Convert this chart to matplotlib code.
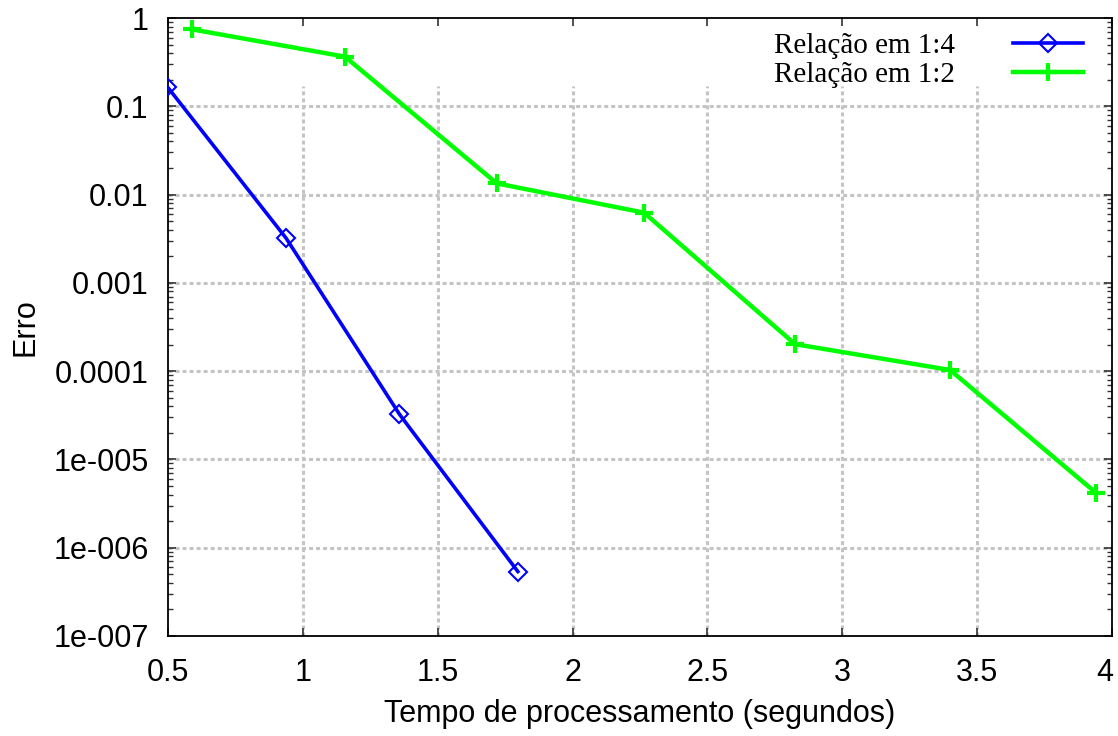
import numpy as np
import matplotlib.pyplot as plt
import matplotlib.transforms as mtransforms
from matplotlib.ticker import FixedLocator, FixedFormatter, LogLocator, NullFormatter

# data
x_14 = [0.497, 0.938, 1.358, 1.797]
err_14 = [0.167, 0.0032, 3.25e-5, 5.37e-7]

x_12 = [0.588, 1.156, 1.719, 2.265, 2.825, 3.40, 3.94]
err_12 = [0.745, 0.365, 0.0134, 0.00624, 2.02e-4, 1.03e-4, 4.2e-6]

labels = ["Relação em 1:4", "Relação em 1:2"]
xticks = [0.5, 1, 1.5, 2, 2.5, 3, 3.5, 4]
xticklabels = ["0.5", "1", "1.5", "2", "2.5", "3", "3.5", "4"]
yticks = [1, 0.1, 0.01, 0.001, 0.0001, 1e-5, 1e-6, 1e-7]
yticklabels = ["1", "0.1", "0.01", "0.001", "0.0001", "1e-005", "1e-006", "1e-007"]

plt.rcParams['font.family'] = ['Liberation Sans', 'DejaVu Sans']

fig = plt.figure(figsize=(11.18, 7.36), dpi=100)
ax = fig.add_axes([0.1503, 0.1359, 0.8443, 0.8396])

ax.set_yscale('log')
ax.set_xlim(0.5, 4)
ax.set_ylim(1e-7, 1)

# grid (gnuplot style: dotted grey, vertical lines stop below the key)
grid_kw = dict(color='#c4c4c4', lw=2.2, linestyle=(0, (1.3, 1.0)), zorder=0)
for v in yticks[1:-1]:
    ax.axhline(v, **grid_kw)
for v in xticks[1:-1]:
    ax.plot([v, v], [1e-7, 0.17], **grid_kw)

ax.plot(x_14, err_14, color='#0000ff', lw=2.6, marker='D', ms=9, mfc='none',
        mec='#0000ff', mew=1.5, label=labels[0], zorder=3)
ax.plot(x_12, err_12, color='#00ff00', lw=3.2, marker='+', ms=13,
        mew=3, label=labels[1], zorder=3)

ax.xaxis.set_major_locator(FixedLocator(xticks))
ax.xaxis.set_major_formatter(FixedFormatter(xticklabels))
ax.yaxis.set_major_locator(FixedLocator(yticks))
ax.yaxis.set_major_formatter(FixedFormatter(yticklabels))
ax.yaxis.set_minor_locator(LogLocator(base=10, subs=np.arange(2, 10)))
ax.yaxis.set_minor_formatter(NullFormatter())

ax.tick_params(which='both', direction='in', top=True, right=True, color='#333333')
ax.tick_params(which='major', length=6, width=1.2, labelsize=22)
ax.tick_params(axis='x', which='major', pad=16)
ax.tick_params(axis='y', which='major', pad=14)
ax.tick_params(which='minor', length=3.5, width=1)

for s in ax.spines.values():
    s.set_linewidth(1.3)

ax.set_xlabel('Tempo de processamento (segundos)', fontsize=22, labelpad=8)
ax.set_ylabel('Erro', fontsize=22, labelpad=9)

# last x label is pulled inside the figure, like gnuplot does
last = ax.get_xticklabels()[-1]
last.set_transform(last.get_transform() +
                   mtransforms.ScaledTranslation(-7 / 100, 0, fig.dpi_scale_trans))

leg = ax.legend(loc='upper right', frameon=False, markerfirst=False,
                prop={'family': 'Liberation Serif', 'size': 21},
                handlelength=2.4, handletextpad=2.0, borderaxespad=0.1,
                labelspacing=0.1, bbox_to_anchor=(0.985, 1.0))

fig.savefig('out.png', dpi=100)
